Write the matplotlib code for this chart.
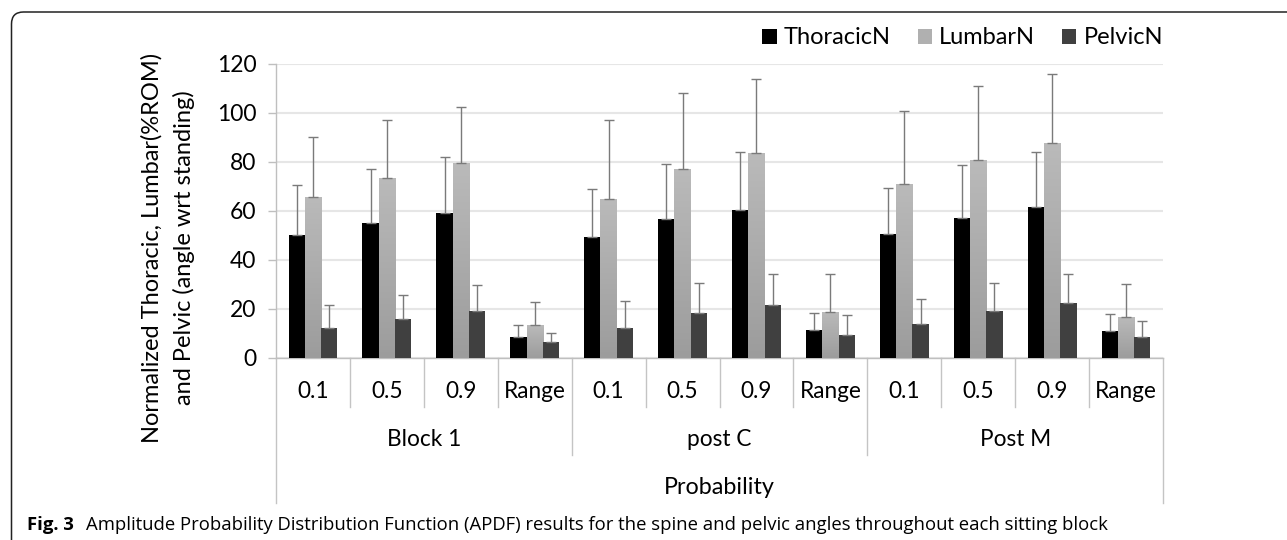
import numpy as np
import matplotlib
matplotlib.use("Agg")
import matplotlib.pyplot as plt
from matplotlib.patches import FancyBboxPatch, Patch
from matplotlib.transforms import IdentityTransform, blended_transform_factory
from matplotlib.colors import LinearSegmentedColormap

# ---- data -------------------------------------------------------------
blocks = ["Block 1", "post C", "Post M"]
probs = ["0.1", "0.5", "0.9", "Range"]

thoracic = [50.1, 55.1, 58.9, 8.3, 49.3, 56.5, 60.4, 11.2, 50.4, 57.0, 61.4, 10.8]
thoracic_sd = [20.5, 22.0, 22.9, 4.9, 19.4, 22.7, 23.4, 7.2, 19.0, 21.5, 22.4, 6.9]
lumbar = [65.6, 73.2, 79.5, 13.3, 64.6, 77.0, 83.4, 18.7, 70.9, 80.8, 87.5, 16.5]
lumbar_sd = [24.3, 23.7, 22.7, 9.3, 32.3, 31.2, 30.2, 15.6, 29.8, 30.2, 28.4, 13.5]
pelvic = [12.2, 15.9, 18.9, 6.3, 12.0, 18.4, 21.5, 9.4, 13.8, 18.9, 22.2, 8.4]
pelvic_sd = [9.3, 9.8, 10.6, 3.9, 11.0, 12.2, 12.7, 7.9, 10.3, 11.6, 12.0, 6.7]

series_names = ["ThoracicN", "LumbarN", "PelvicN"]
yticks = [0, 20, 40, 60, 80, 100, 120]

# ---- figure -----------------------------------------------------------
W, H = 1287, 540
fig = plt.figure(figsize=(W / 100, H / 100), dpi=100)
FONT = "Lato"
plt.rcParams["font.family"] = [FONT, "DejaVu Sans"]

ax_l, ax_r, ax_t, ax_b = 276, 1163, 63.7, 357.7
ax = fig.add_axes([ax_l / W, 1 - ax_b / H, (ax_r - ax_l) / W, (ax_b - ax_t) / H])

n = len(blocks) * len(probs)
x = np.arange(n)
bw = 0.22
err_kw = dict(ecolor="#7a7a7a", elinewidth=1.0, capsize=3.5, capthick=1.0)

ax.bar(x - bw, thoracic, bw, color="#000000", zorder=3,
       yerr=[np.zeros(n), thoracic_sd], error_kw=err_kw)
lb = ax.bar(x, lumbar, bw, color="none", zorder=3,
            yerr=[np.zeros(n), lumbar_sd], error_kw=err_kw)
ax.bar(x + bw, pelvic, bw, color="#404040", zorder=3,
       yerr=[np.zeros(n), pelvic_sd], error_kw=err_kw)

# vertical gradient fill for lumbar bars
grad_cmap = LinearSegmentedColormap.from_list("lumbar", ["#9c9c9c", "#bababa"])
grad = np.linspace(0, 1, 256).reshape(-1, 1)
for rect in lb.patches:
    x0, y0 = rect.get_x(), rect.get_y()
    w, h = rect.get_width(), rect.get_height()
    im = ax.imshow(grad, cmap=grad_cmap, origin="lower", aspect="auto",
                   extent=[x0, x0 + w, y0, y0 + h], zorder=2.9,
                   interpolation="bilinear")
    im.set_clip_path(rect)

ax.set_xlim(-0.5, n - 0.5)
ax.set_ylim(0, 120)
ax.set_yticks(yticks)
ax.set_yticklabels([str(v) for v in yticks], fontsize=16.5, family=FONT)
ax.set_xticks([])
ax.yaxis.grid(True, color="#e6e6e6", linewidth=1.5, zorder=0)
ax.set_axisbelow(True)
ax.tick_params(axis="y", length=6, width=1, color="#bfbfbf", pad=8,
               labelcolor="#000000")
for s in ["top", "right"]:
    ax.spines[s].set_visible(False)
ax.spines["left"].set_color("#bfbfbf")
ax.spines["bottom"].set_color("#bfbfbf")
ax.spines["left"].set_linewidth(1)
ax.spines["bottom"].set_linewidth(1)

# ---- multi-level category axis ---------------------------------------
trans = blended_transform_factory(ax.transData, ax.transAxes)
ah = ax_b - ax_t
lvl1 = -(406.7 - ax_b) / ah
lvl2 = -(455.0 - ax_b) / ah
lvl3 = -(503.0 - ax_b) / ah
sep_kw = dict(color="#c4c4c4", linewidth=1, transform=trans, clip_on=False)

for i in range(n + 1):
    xb = i - 0.5
    if i == 0 or i == n:
        y_end = lvl3
    elif i % len(probs) == 0:
        y_end = lvl2
    else:
        y_end = lvl1
    ax.plot([xb, xb], [0, y_end], **sep_kw)

for i in range(n):
    ax.text(i, -(391.7 - ax_b) / ah, probs[i % len(probs)], transform=trans,
            ha="center", va="center", fontsize=16.3, family=FONT)
for j, b in enumerate(blocks):
    xc = j * len(probs) + (len(probs) - 1) / 2
    ax.text(xc, -(440 - ax_b) / ah, b, transform=trans,
            ha="center", va="center", fontsize=16.3, family=FONT)
ax.text((n - 1) / 2, -(488 - ax_b) / ah, "Probability", transform=trans,
        ha="center", va="center", fontsize=16.8, family=FONT)

# ---- y axis title (two centred lines) ---------------------------------
fig.text(152 / W, 1 - 248 / H, "Normalized Thoracic, Lumbar(%ROM)",
         rotation=90, ha="center", va="center", fontsize=17, family=FONT)
fig.text(184 / W, 1 - 248 / H, "and Pelvic (angle wrt standing)",
         rotation=90, ha="center", va="center", fontsize=17, family=FONT)

# ---- legend -----------------------------------------------------------
handles = [Patch(facecolor="#000000"), Patch(facecolor="#b0b0b0"),
           Patch(facecolor="#404040")]
leg = ax.legend(handles, series_names, loc="center right",
                bbox_to_anchor=(1.0, 1 + (ax_t - 38) / ah), ncol=3,
                frameon=False, handlelength=0.6,
                handleheight=0.6, handletextpad=0.3, columnspacing=1.15,
                borderaxespad=0, borderpad=0, prop={"family": FONT, "size": 17})

# ---- frame and caption --------------------------------------------------
frame = FancyBboxPatch((11.5, -50), 1400, 540 - 12 + 50,
                       boxstyle="round,pad=0,rounding_size=12",
                       transform=IdentityTransform(), facecolor="none",
                       edgecolor="#222222", linewidth=1.1, clip_on=False)
fig.patches.append(frame)

cap_y = 1 - 525 / H
fig.text(27 / W, cap_y, "Fig. 3", fontsize=13.3, fontweight="bold",
         family="Open Sans", ha="left", va="center")
fig.text(86 / W, cap_y,
         "Amplitude Probability Distribution Function (APDF) results for the "
         "spine and pelvic angles throughout each sitting block",
         fontsize=13.3, family="Open Sans", ha="left", va="center")

fig.savefig("out.png", dpi=100)
